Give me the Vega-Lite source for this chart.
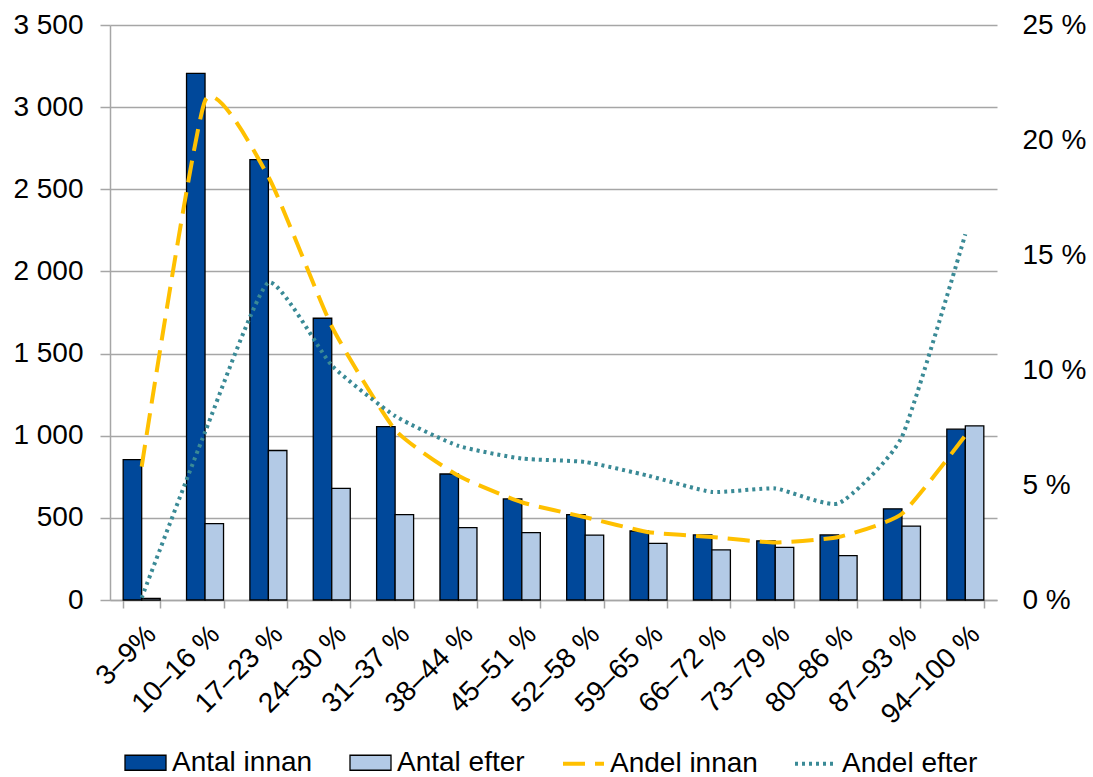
{
  "$schema": "https://vega.github.io/schema/vega-lite/v6.json",
  "width": 887,
  "height": 575,
  "autosize": {"type": "none"},
  "padding": {"left": 110, "top": 25, "right": 96, "bottom": 177},
  "background": "white",
  "config": {
    "font": "Liberation Sans",
    "view": {"stroke": null},
    "axis": {
      "labelFont": "Liberation Sans",
      "labelFontSize": 28,
      "labelColor": "black",
      "domainColor": "#A6A6A6",
      "tickColor": "#A6A6A6",
      "gridColor": "#A6A6A6",
      "domainWidth": 1.5,
      "tickWidth": 1.5,
      "gridWidth": 1.5,
      "title": null
    },
    "legend": {
      "labelFont": "Liberation Sans",
      "labelFontSize": 28,
      "labelColor": "black",
      "title": null
    }
  },
  "datasets": {
    "bars": [
      {"cat": "3–9%", "serie": "Antal innan", "v": 855},
      {"cat": "10–16 %", "serie": "Antal innan", "v": 3205},
      {"cat": "17–23 %", "serie": "Antal innan", "v": 2680},
      {"cat": "24–30 %", "serie": "Antal innan", "v": 1715},
      {"cat": "31–37 %", "serie": "Antal innan", "v": 1055},
      {"cat": "38–44 %", "serie": "Antal innan", "v": 767},
      {"cat": "45–51 %", "serie": "Antal innan", "v": 615},
      {"cat": "52–58 %", "serie": "Antal innan", "v": 520},
      {"cat": "59–65 %", "serie": "Antal innan", "v": 420},
      {"cat": "66–72 %", "serie": "Antal innan", "v": 396},
      {"cat": "73–79 %", "serie": "Antal innan", "v": 360},
      {"cat": "80–86 %", "serie": "Antal innan", "v": 396},
      {"cat": "87–93 %", "serie": "Antal innan", "v": 555},
      {"cat": "94–100 %", "serie": "Antal innan", "v": 1040},
      {"cat": "3–9%", "serie": "Antal efter", "v": 10},
      {"cat": "10–16 %", "serie": "Antal efter", "v": 465},
      {"cat": "17–23 %", "serie": "Antal efter", "v": 910},
      {"cat": "24–30 %", "serie": "Antal efter", "v": 680},
      {"cat": "31–37 %", "serie": "Antal efter", "v": 520},
      {"cat": "38–44 %", "serie": "Antal efter", "v": 440},
      {"cat": "45–51 %", "serie": "Antal efter", "v": 410},
      {"cat": "52–58 %", "serie": "Antal efter", "v": 395},
      {"cat": "59–65 %", "serie": "Antal efter", "v": 345},
      {"cat": "66–72 %", "serie": "Antal efter", "v": 305},
      {"cat": "73–79 %", "serie": "Antal efter", "v": 320},
      {"cat": "80–86 %", "serie": "Antal efter", "v": 270},
      {"cat": "87–93 %", "serie": "Antal efter", "v": 450},
      {"cat": "94–100 %", "serie": "Antal efter", "v": 1060}
    ],
    "lines": [
      {"cat": "3–9%", "serie": "Andel innan", "v": 5.8},
      {"cat": "10–16 %", "serie": "Andel innan", "v": 21.7},
      {"cat": "17–23 %", "serie": "Andel innan", "v": 18.4},
      {"cat": "24–30 %", "serie": "Andel innan", "v": 11.9},
      {"cat": "31–37 %", "serie": "Andel innan", "v": 7.4},
      {"cat": "38–44 %", "serie": "Andel innan", "v": 5.4},
      {"cat": "45–51 %", "serie": "Andel innan", "v": 4.25},
      {"cat": "52–58 %", "serie": "Andel innan", "v": 3.6},
      {"cat": "59–65 %", "serie": "Andel innan", "v": 2.95},
      {"cat": "66–72 %", "serie": "Andel innan", "v": 2.74},
      {"cat": "73–79 %", "serie": "Andel innan", "v": 2.5},
      {"cat": "80–86 %", "serie": "Andel innan", "v": 2.74},
      {"cat": "87–93 %", "serie": "Andel innan", "v": 3.75},
      {"cat": "94–100 %", "serie": "Andel innan", "v": 7.15},
      {"cat": "3–9%", "serie": "Andel efter", "v": 0.1},
      {"cat": "10–16 %", "serie": "Andel efter", "v": 7.3},
      {"cat": "17–23 %", "serie": "Andel efter", "v": 13.8},
      {"cat": "24–30 %", "serie": "Andel efter", "v": 10.2},
      {"cat": "31–37 %", "serie": "Andel efter", "v": 8.0},
      {"cat": "38–44 %", "serie": "Andel efter", "v": 6.7},
      {"cat": "45–51 %", "serie": "Andel efter", "v": 6.15},
      {"cat": "52–58 %", "serie": "Andel efter", "v": 6.0},
      {"cat": "59–65 %", "serie": "Andel efter", "v": 5.4},
      {"cat": "66–72 %", "serie": "Andel efter", "v": 4.7},
      {"cat": "73–79 %", "serie": "Andel efter", "v": 4.85},
      {"cat": "80–86 %", "serie": "Andel efter", "v": 4.2},
      {"cat": "87–93 %", "serie": "Andel efter", "v": 7.1},
      {"cat": "94–100 %", "serie": "Andel efter", "v": 15.9}
    ]
  },
  "layer": [
    {
      "data": {"name": "bars"},
      "mark": {"type": "bar", "stroke": "black", "strokeWidth": 1.3},
      "encoding": {
        "x": {
          "field": "cat",
          "type": "nominal",
          "sort": null,
          "scale": {
            "domain": ["3–9%", "10–16 %", "17–23 %", "24–30 %", "31–37 %", "38–44 %", "45–51 %", "52–58 %", "59–65 %", "66–72 %", "73–79 %", "80–86 %", "87–93 %", "94–100 %"],
            "paddingInner": 0.416,
            "paddingOuter": 0.208
          },
          "axis": {
            "labelAngle": -45,
            "tickBand": "extent",
            "tickSize": 8,
            "labelPadding": 12,
            "labelOverlap": false,
            "grid": false
          }
        },
        "xOffset": {
          "field": "serie",
          "type": "nominal",
          "sort": null,
          "scale": {"domain": ["Antal innan", "Antal efter"], "paddingInner": 0, "paddingOuter": 0}
        },
        "y": {
          "field": "v",
          "type": "quantitative",
          "scale": {"domain": [0, 3500]},
          "axis": {
            "values": [0, 500, 1000, 1500, 2000, 2500, 3000, 3500],
            "labelExpr": "replace(format(datum.value, ','), ',', ' ')",
            "tickSize": 10,
            "labelPadding": 17,
            "grid": true
          }
        },
        "fill": {
          "field": "serie",
          "type": "nominal",
          "scale": {
            "domain": ["Antal innan", "Antal efter"],
            "range": ["#00489A", "#B3CAE6"]
          },
          "legend": {
            "orient": "none",
            "legendX": 14,
            "legendY": 716,
            "direction": "horizontal",
            "columns": 2,
            "columnPadding": 34,
            "labelOffset": 5,
            "symbolType": "M-1,-0.366H1V0.366H-1Z",
            "symbolSize": 1681,
            "symbolStrokeColor": "black",
            "symbolStrokeWidth": 1.3,
            "symbolOpacity": 1
          }
        }
      }
    },
    {
      "data": {"name": "lines"},
      "mark": {"type": "line", "interpolate": "cardinal", "tension": 0.5, "strokeWidth": 4},
      "encoding": {
        "x": {"field": "cat", "type": "nominal", "sort": null},
        "y": {
          "field": "v",
          "type": "quantitative",
          "scale": {"domain": [0, 25]},
          "axis": {
            "orient": "right",
            "values": [0, 5, 10, 15, 20, 25],
            "labelExpr": "datum.value + ' %'",
            "domain": false,
            "ticks": false,
            "tickSize": 0,
            "labelPadding": 25,
            "grid": false
          }
        },
        "stroke": {
          "field": "serie",
          "type": "nominal",
          "scale": {
            "domain": ["Andel innan", "Andel efter"],
            "range": ["#FFC000", "#3A8A96"]
          },
          "legend": {
            "orient": "none",
            "legendX": 451,
            "legendY": 716,
            "direction": "horizontal",
            "columns": 2,
            "columnPadding": 29,
            "labelOffset": 4,
            "symbolType": "stroke",
            "symbolSize": 1681,
            "symbolStrokeWidth": 4
          }
        },
        "strokeDash": {
          "field": "serie",
          "type": "nominal",
          "scale": {
            "domain": ["Andel innan", "Andel efter"],
            "range": [[22, 10], [3, 4]]
          },
          "legend": {
            "orient": "none",
            "legendX": 451,
            "legendY": 716,
            "direction": "horizontal",
            "columns": 2,
            "columnPadding": 29,
            "labelOffset": 4,
            "symbolType": "stroke",
            "symbolSize": 1681,
            "symbolStrokeWidth": 4
          }
        }
      }
    }
  ],
  "resolve": {"scale": {"y": "independent"}}
}
